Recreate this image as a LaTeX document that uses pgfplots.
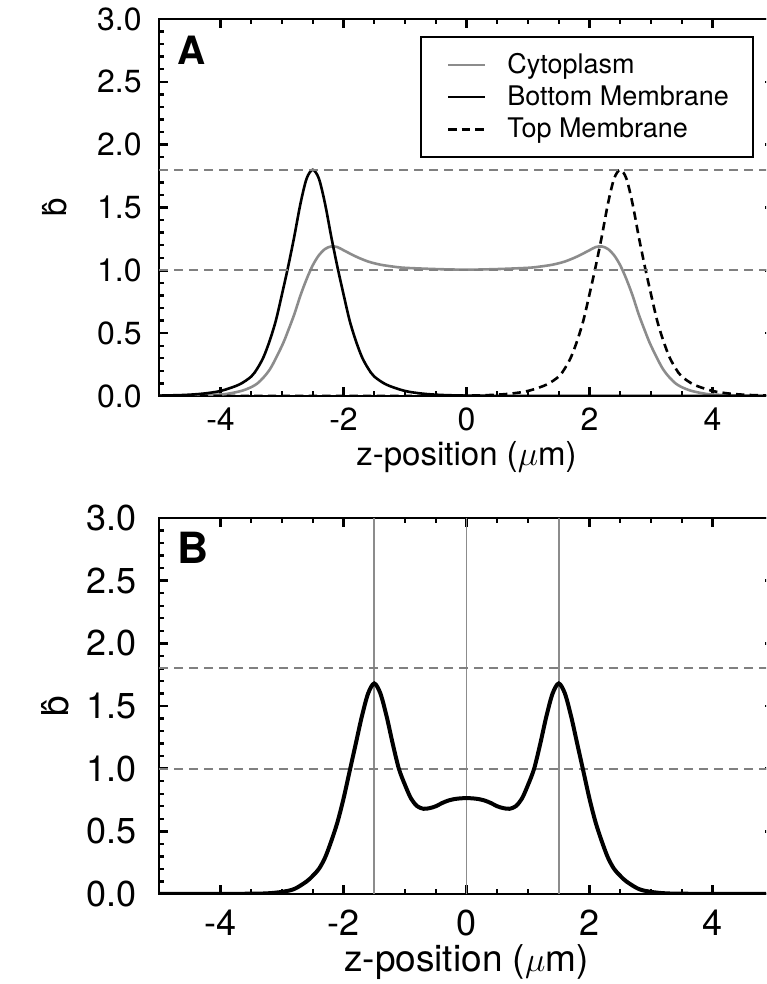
\documentclass[border=0pt]{standalone}
\usepackage{fontspec}
\setmainfont{TeX Gyre Heros}
\usepackage{pgfplots}
\pgfplotsset{compat=1.18}
\definecolor{cyto}{gray}{0.55}
\definecolor{refg}{gray}{0.5}
\definecolor{vline}{gray}{0.55}

\pgfplotsset{
 myaxis/.style={
  scale only axis, width=307.5pt, xmin=-5, xmax=5, ymin=0, ymax=3,
  xtick={-4,-2,0,2,4}, minor x tick num=3,
  ytick={0,0.5,1,1.5,2,2.5,3}, minor y tick num=4,
  /pgf/number format/assume math mode=true,
  yticklabel style={/pgf/number format/.cd, fixed, fixed zerofill, precision=1, /tikz/.cd, anchor=east, inner sep=0pt},
  xticklabel style={anchor=base, inner sep=0pt},
  axis line style={line width=1.3pt},
  every tick/.style={line width=1.2pt, black},
  major tick length=4.5pt, minor tick length=2.6pt,
  tick align=inside,
  ylabel={\^b},
  xlabel={z-position ($\mu$m)},
 }
}
\newcommand{\lstrut}{\rule[-0.22em]{0pt}{0.97em}}

\begin{document}
\begin{tikzpicture}
\path[use as bounding box, clip] (0,0) rectangle (383pt,492pt);

% ---------- Panel A ----------
\begin{axis}[myaxis,
  at={(79.5pt,294pt)}, anchor=south west, height=188.5pt,
  tick label style={font=\fontsize{16}{19}\selectfont},
  yticklabel style={xshift=-8.5pt},
  xticklabel style={yshift=-17.5pt},
  label style={font=\fontsize{16.5}{20}\selectfont},
  xlabel style={at={(axis description cs:0.5,-0.184)}, anchor=base, inner sep=0pt},
  ylabel style={at={(axis description cs:-0.169,0.5)}, anchor=center, inner sep=0pt},
  legend style={at={(axis description cs:0.9675,0.955)}, anchor=north east,
    draw=black, line width=1.2pt, fill=white,
    font=\fontsize{13.5}{16}\selectfont,
    inner xsep=9pt, inner ysep=6.5pt, row sep=1.25pt, column sep=7.5pt,
    nodes={inner xsep=3pt, inner ysep=1.6pt}},
  legend cell align=left,
  legend image code/.code={\path (0pt,0pt); \draw[#1] (4pt,0pt) -- (22.5pt,0pt);},
]
\addplot[cyto, line width=1.3pt, smooth] coordinates {
(-5,0) (-4.5,0.003) (-4.0,0.012) (-3.8,0.025) (-3.6,0.05) (-3.4,0.10)
(-3.2,0.21) (-3.0,0.40) (-2.9,0.52) (-2.8,0.65) (-2.7,0.80) (-2.6,0.93)
(-2.5,1.04) (-2.4,1.12) (-2.3,1.17) (-2.2,1.19) (-2.1,1.185) (-2.0,1.16)
(-1.8,1.11) (-1.6,1.07) (-1.4,1.045) (-1.2,1.03) (-1.0,1.02) (-0.5,1.01)
(0,1.005)
(0.5,1.01) (1.0,1.02) (1.2,1.03) (1.4,1.045) (1.6,1.07) (1.8,1.11)
(2.0,1.16) (2.1,1.185) (2.2,1.19) (2.3,1.17) (2.4,1.12) (2.5,1.04)
(2.6,0.93) (2.7,0.80) (2.8,0.65) (2.9,0.52) (3.0,0.40) (3.2,0.21)
(3.4,0.10) (3.6,0.05) (3.8,0.025) (4.0,0.012) (4.5,0.003) (5,0)};
\addlegendentry{\lstrut Cytoplasm}
\addplot[black, line width=1.3pt, smooth] coordinates {
(-5.0,0.003) (-4.6,0.008) (-4.3,0.018) (-4.0,0.04) (-3.7,0.09) (-3.5,0.155)
(-3.4,0.22) (-3.3,0.31) (-3.2,0.44) (-3.1,0.60) (-3.0,0.81) (-2.9,1.03)
(-2.8,1.27) (-2.7,1.53) (-2.6,1.73) (-2.5,1.80) (-2.4,1.73) (-2.3,1.53)
(-2.2,1.27) (-2.1,1.03) (-2.0,0.81) (-1.9,0.60) (-1.8,0.44) (-1.7,0.31)
(-1.6,0.22) (-1.5,0.155) (-1.3,0.09) (-1.0,0.04) (-0.7,0.018) (-0.4,0.008)
(0.0,0.003) (0.5,0.001) (1.0,0.0003) (1.5,0) (5,0)};
\addlegendentry{\lstrut Bottom Membrane}
\addplot[black, line width=1.3pt, smooth, dash pattern=on 4.2pt off 2.6pt] coordinates {
(-5,0) (-1.5,0) (-1.0,0.0003) (-0.5,0.001) (0.0,0.003) (0.4,0.008) (0.7,0.018)
(1.0,0.04) (1.3,0.09) (1.5,0.155) (1.6,0.22) (1.7,0.31) (1.8,0.44)
(1.9,0.60) (2.0,0.81) (2.1,1.03) (2.2,1.27) (2.3,1.53) (2.4,1.73)
(2.5,1.80) (2.6,1.73) (2.7,1.53) (2.8,1.27) (2.9,1.03) (3.0,0.81)
(3.1,0.60) (3.2,0.44) (3.3,0.31) (3.4,0.22) (3.5,0.155) (3.7,0.09)
(4.0,0.04) (4.3,0.018) (4.6,0.008) (5.0,0.003)};
\addlegendentry{\lstrut Top Membrane}
\addplot[forget plot, refg, line width=1.1pt, dash pattern=on 4.7pt off 2.8pt] coordinates {(-5,1.8) (5,1.8)};
\addplot[forget plot, refg, line width=1.1pt, dash pattern=on 4.7pt off 2.8pt] coordinates {(-5,1.0) (5,1.0)};
\node[anchor=north west, inner sep=0pt, xshift=9pt, yshift=-8.5pt,
  font=\fontsize{19.5}{22}\selectfont\bfseries] at (axis description cs:0,1) {A};
\end{axis}

% ---------- Panel B ----------
\begin{axis}[myaxis,
  at={(79.5pt,45pt)}, anchor=south west, height=188pt,
  tick label style={font=\fontsize{18}{21}\selectfont},
  yticklabel style={xshift=-11pt},
  xticklabel style={yshift=-20.5pt},
  label style={font=\fontsize{18.5}{22}\selectfont},
  xlabel style={at={(axis description cs:0.5,-0.207)}, anchor=base, inner sep=0pt},
  ylabel style={at={(axis description cs:-0.169,0.5)}, anchor=center, inner sep=0pt},
]
\addplot[vline, line width=0.8pt] coordinates {(-1.5,0) (-1.5,3)};
\addplot[vline, line width=0.8pt] coordinates {(0,0) (0,3)};
\addplot[vline, line width=0.8pt] coordinates {(1.5,0) (1.5,3)};
\addplot[refg, line width=1.1pt, dash pattern=on 4.7pt off 2.8pt] coordinates {(-5,1.8) (5,1.8)};
\addplot[refg, line width=1.1pt, dash pattern=on 4.7pt off 2.8pt] coordinates {(-5,1.0) (5,1.0)};
\addplot[black, line width=2pt, smooth] coordinates {
(-5,0) (-4.5,0.0005) (-4,0.001) (-3.6,0.002) (-3.25,0.005) (-3.0,0.017)
(-2.8,0.04) (-2.6,0.10) (-2.5,0.145) (-2.4,0.20) (-2.3,0.29) (-2.2,0.42)
(-2.1,0.57) (-2.0,0.76) (-1.9,0.98) (-1.8,1.20) (-1.7,1.42) (-1.6,1.60)
(-1.5,1.68) (-1.4,1.60) (-1.3,1.42) (-1.2,1.20) (-1.1,1.00) (-1.0,0.87)
(-0.9,0.76) (-0.8,0.70) (-0.7,0.68) (-0.6,0.685) (-0.5,0.70) (-0.4,0.725)
(-0.3,0.745) (-0.2,0.757) (-0.1,0.763) (0,0.765)
(0.1,0.763) (0.2,0.757) (0.3,0.745) (0.4,0.725) (0.5,0.70) (0.6,0.685)
(0.7,0.68) (0.8,0.70) (0.9,0.76) (1.0,0.87) (1.1,1.00) (1.2,1.20)
(1.3,1.42) (1.4,1.60) (1.5,1.68) (1.6,1.60) (1.7,1.42) (1.8,1.20)
(1.9,0.98) (2.0,0.76) (2.1,0.57) (2.2,0.42) (2.3,0.29) (2.4,0.20)
(2.5,0.145) (2.6,0.10) (2.8,0.04) (3.0,0.017) (3.25,0.005) (3.6,0.002)
(4,0.001) (4.5,0.0005) (5,0)};
\node[anchor=north west, inner sep=0pt, xshift=9pt, yshift=-7pt,
  font=\fontsize{21.5}{24}\selectfont\bfseries] at (axis description cs:0,1) {B};
\end{axis}
\end{tikzpicture}
\end{document}
